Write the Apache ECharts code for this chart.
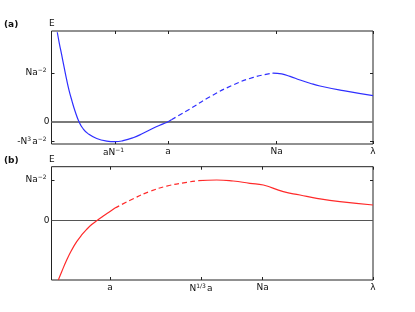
<!DOCTYPE html>
<html><head><meta charset="utf-8">
<script src="https://cdn.jsdelivr.net/npm/echarts@6/dist/echarts.min.js"></script>
<style>html,body{margin:0;padding:0;background:#fff}#c{width:415px;height:312px}</style>
</head><body><div id="c"></div>
<script>
// Panel (a): x in 0..100 (λ axis, arbitrary), y in units of Na^-2
const aSolid1 = [[1.8,1.836],[2.43,1.61],[3.17,1.37],[3.89,1.13],[4.73,0.856],[5.44,0.65],[6.28,0.446],[7.31,0.22],[8.55,0],[9.89,-0.15],[11.45,-0.25],[14.06,-0.345],[17.17,-0.398],[19.75,-0.411],[22.27,-0.39],[25.38,-0.329],[28.49,-0.238],[31.6,-0.136],[34.7,-0.045],[36.27,0],[37.3,0.04]];
const aDashed = [[37.3,0.04],[43.0,0.26],[49.3,0.513],[56.5,0.754],[62.8,0.91],[68.9,0.996]];
const aSolid2 = [[68.9,0.996],[71.6,0.98],[74.2,0.93],[77.3,0.856],[80.4,0.79],[83.5,0.733],[90.8,0.637],[100,0.534]];
const aXTicks = [19.75, 36.2, 70, 100];
const aXLabels = ['aN{sup|−1}', 'a', 'Na', 'λ'];
const aYTicks = [-0.41, 0, 1];
const aYLabels = ['-N{supm|3}a{sup|−2}', '0', 'Na{sup|−2}'];
const aYRange = [-0.458, 1.862];

// Panel (b)
const bSolid1 = [[2.12,-1.457],[3.17,-1.253],[4.73,-0.966],[6.28,-0.721],[7.84,-0.516],[9.39,-0.351],[10.95,-0.211],[12.5,-0.095],[14.06,0],[16.1,0.115],[18.2,0.228],[19.75,0.31]];
const bDashed = [[19.75,0.31],[25.44,0.54],[30.64,0.72],[35.83,0.85],[42.05,0.943],[45.66,0.983]];
const bSolid2 = [[45.66,0.983],[51.4,1.0],[56.5,0.975],[61.7,0.919],[65.9,0.877],[72.1,0.713],[77.3,0.631],[82.5,0.55],[89.7,0.467],[100,0.386]];
const bXTicks = [18.2, 46.5, 65.7, 100];
const bXLabels = ['a', 'N{supm|1/3}a', 'Na', 'λ'];
const bYTicks = [0, 1];
const bYLabels = ['0', 'Na{sup|−2}'];
const bYRange = [-1.457, 1.327];

const FONT = 'DejaVu Sans';
const rich = {
  sup: {fontSize: 6, fontFamily: FONT, color: '#111', verticalAlign: 'top', padding: [0, 3, 5, 0]},
  supm: {fontSize: 6, fontFamily: FONT, color: '#111', verticalAlign: 'top', padding: [0, 1, 5, 0]}
};
function lookup(vals, labels) {
  return function (v) {
    let best = 0, d = Infinity;
    vals.forEach((t, i) => { const dd = Math.abs(t - v); if (dd < d) { d = dd; best = i; } });
    return labels[best];
  };
}
const chart = echarts.init(document.getElementById('c'), null, {renderer: 'canvas'});
const grids = [
  {left: 51.5, top: 31, width: 321.5, height: 113},
  {left: 51.5, top: 166.7, width: 321.5, height: 113.3}
];
function xAxes(idx, ticks, labels) {
  return [
    {gridIndex: idx, type: 'value', min: 0, max: 100, position: 'bottom',
     axisLine: {show: false, onZero: false}, splitLine: {show: false},
     axisTick: {show: true, inside: true, length: 3, customValues: ticks, lineStyle: {color: '#222'}},
     axisLabel: {show: true, customValues: ticks, margin: 3, formatter: lookup(ticks, labels),
       fontSize: 9, fontFamily: FONT, color: '#111', rich: rich}},
    {gridIndex: idx, type: 'value', min: 0, max: 100, position: 'top',
     axisLine: {show: false, onZero: false}, splitLine: {show: false},
     axisTick: {show: true, inside: true, length: 3, customValues: ticks, lineStyle: {color: '#222'}},
     axisLabel: {show: false}}
  ];
}
function yAxes(idx, range, ticks, labels) {
  return [
    {gridIndex: idx, type: 'value', min: range[0], max: range[1], position: 'left',
     axisLine: {show: false, onZero: false}, splitLine: {show: false},
     axisTick: {show: true, inside: true, length: 3, customValues: ticks, lineStyle: {color: '#222'}},
     axisLabel: {show: true, customValues: ticks, margin: 2, formatter: lookup(ticks, labels),
       fontSize: 9, fontFamily: FONT, color: '#111', rich: rich}},
    {gridIndex: idx, type: 'value', min: range[0], max: range[1], position: 'right',
     axisLine: {show: false, onZero: false}, splitLine: {show: false},
     axisTick: {show: true, inside: true, length: 3, customValues: ticks, lineStyle: {color: '#222'}},
     axisLabel: {show: false}}
  ];
}
function seg(data, xi, yi, color, dashed, zero, zc, zw) {
  const s = {type: 'line', xAxisIndex: xi, yAxisIndex: yi, data: data, smooth: 0.5,
    showSymbol: false, symbol: 'none', silent: true, z: 3,
    lineStyle: {color: color, width: 1.2, type: dashed ? [5, 3] : 'solid'}};
  if (zero) {
    s.markLine = {silent: true, symbol: 'none', label: {show: false}, z: 2,
      lineStyle: {color: zc, width: zw, type: 'solid'}, data: [{yAxis: 0}]};
  }
  return s;
}
const BLUE = '#2f2fff', RED = '#ff2a2a';
chart.setOption({
  animation: false,
  grid: grids.map(g => Object.assign({show: true, borderColor: '#222', borderWidth: 1, backgroundColor: 'transparent'}, g)),
  xAxis: xAxes(0, aXTicks, aXLabels).concat(xAxes(1, bXTicks, bXLabels)),
  yAxis: yAxes(0, aYRange, aYTicks, aYLabels).concat(yAxes(1, bYRange, bYTicks, bYLabels)),
  series: [
    seg(aSolid1, 0, 0, BLUE, false, true, '#7a7a7a', 2),
    seg(aDashed, 0, 0, BLUE, true),
    seg(aSolid2, 0, 0, BLUE, false),
    seg(bSolid1, 2, 2, RED, false, true, '#555', 1.2),
    seg(bDashed, 2, 2, RED, true),
    seg(bSolid2, 2, 2, RED, false)
  ],
  graphic: [
    {type: 'text', left: 4, top: 20, style: {text: '(a)', font: 'bold 9px "DejaVu Sans"', fill: '#111'}},
    {type: 'text', left: 49, top: 19, style: {text: 'E', font: '9px "DejaVu Sans"', fill: '#111'}},
    {type: 'text', left: 4, top: 156, style: {text: '(b)', font: 'bold 9px "DejaVu Sans"', fill: '#111'}},
    {type: 'text', left: 49, top: 155, style: {text: 'E', font: '9px "DejaVu Sans"', fill: '#111'}}
  ]
});
</script></body></html>
